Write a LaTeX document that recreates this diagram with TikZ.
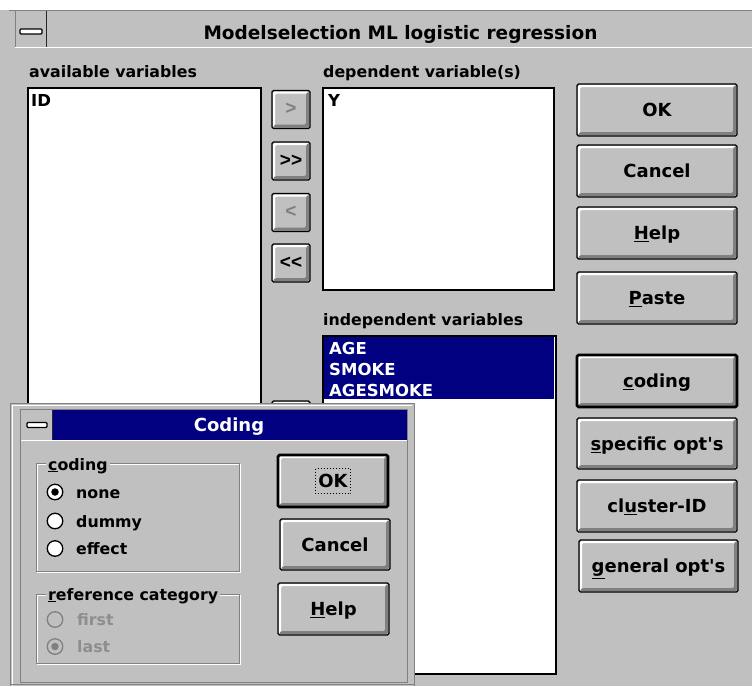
\documentclass[tikz,border=0pt]{standalone}
\usepackage{fontspec}
\setmainfont{DejaVu Sans}
\newfontfamily\chevfont{Liberation Sans}
\definecolor{winGray}{HTML}{C0C0C0}
\definecolor{winShadow}{HTML}{808080}
\definecolor{winNavy}{HTML}{000080}
\definecolor{winDim}{HTML}{8E8E8E}
\begin{document}
\begin{tikzpicture}[x=1pt,y=-1pt,
  lbl/.style={font=\fontsize{15.8}{18}\selectfont\bfseries, inner sep=0pt, anchor=base west},
  item/.style={font=\fontsize{16.5}{19}\selectfont\bfseries, inner sep=0pt, anchor=base west},
  titletext/.style={font=\fontsize{18.5}{20}\selectfont\bfseries, inner sep=0pt, text height=13.4pt, text depth=0pt},
  bevel/.style={path picture={
    \fill[white]
      ([xshift=1pt,yshift=1pt]path picture bounding box.south west)
      |- ([xshift=-1pt,yshift=-1pt]path picture bounding box.north east)
      -- ([xshift=-3pt,yshift=-3pt]path picture bounding box.north east)
      -| ([xshift=3pt,yshift=3pt]path picture bounding box.south west)
      -- cycle;
    \fill[winShadow]
      ([xshift=1pt,yshift=1pt]path picture bounding box.south west)
      -| ([xshift=-1pt,yshift=-1pt]path picture bounding box.north east)
      -- ([xshift=-4pt,yshift=-3pt]path picture bounding box.north east)
      |- ([xshift=3pt,yshift=4pt]path picture bounding box.south west)
      -- cycle;
  }},
  winbtn/.style 2 args={draw=black, line width=1.3pt, fill=winGray, rounded corners=1.5pt,
    minimum width=#1, minimum height=#2, inner sep=0pt, bevel,
    font=\fontsize{18}{20}\selectfont\bfseries, text height=13.1pt, text depth=0pt},
  defbtn/.style={line width=2.7pt},
  chev/.style={font=\fontsize{19}{19}\selectfont\chevfont\bfseries, text height=10pt, text depth=0pt},
  dimmed/.style={text=winShadow},
  listbox/.style={draw=black, line width=1.6pt, fill=white, anchor=north west, inner sep=0pt},
  sysdash/.style={draw=black, line width=1.1pt, fill=white, rounded corners=1pt,
    minimum width=#1, minimum height=5pt, inner sep=0pt},
  radio/.style={circle, draw=black, line width=1.3pt, fill=white, minimum size=15.5pt, inner sep=0pt},
  radiooff/.style={circle, draw=winShadow, line width=1.3pt, fill=winGray, minimum size=15.5pt, inner sep=0pt},
  radiodot/.style={circle, fill=#1, minimum size=7.5pt, inner sep=0pt},
  grptitle/.style={lbl, fill=winGray, inner sep=2pt},
  etched/.style={draw=winShadow, line width=1pt},
]
\useasboundingbox (0,0) rectangle (752,686);
\fill[white] (0,0) rectangle (752,686);

% ---------- main window ----------
\fill[winGray] (0,10) rectangle (752,686);
\draw[winShadow, line width=1.5pt] (9,10.3) -- (752,10.3);
\draw[winShadow, line width=1pt] (15.5,11) -- (15.5,47);
\draw[black!85, line width=1.3pt] (46.5,11) -- (46.5,47);
\draw[white, line width=1.3pt] (15,47.7) -- (752,47.7);
\node[sysdash=22pt] (mainMenu) at (31,31.5) {};
\node[titletext] (mainTitle) at (400.5,32.5) {Modelselection ML logistic regression};

% labels
\node[lbl] (availLabel) at (29,77.5) {available variables};
\node[lbl] (depLabel) at (323,77.5) {dependent variable(s)};
\node[lbl] (indepLabel) at (323,325.5) {independent variables};

% list boxes
\node[listbox, minimum width=233pt, minimum height=330pt] (availBox) at (27,87) {};
\node[item] (itemID) at (31,106.5) {ID};
\node[listbox, minimum width=231pt, minimum height=202pt] (depBox) at (322,87) {};
\node[item] (itemY) at (328,106.5) {Y};
\node[listbox, minimum width=233pt, minimum height=338pt] (indepBox) at (322,335) {};
\fill[winNavy] (323.5,336.5) rectangle (554,399);
\node[item, text=white] (itemAge) at (329,354.5) {AGE};
\node[item, text=white] (itemSmoke) at (329,375.5) {SMOKE};
\node[item, text=white] (itemAgeSmoke) at (329,396) {AGESMOKE};

% transfer buttons
\node[winbtn={38pt}{38pt}, chev, dimmed] (btnAdd) at (291,109.5) {>};
\node[winbtn={38pt}{38pt}, chev] (btnAddAll) at (291,161) {>>};
\node[winbtn={38pt}{38pt}, chev, dimmed] (btnRemove) at (291,212.5) {<};
\node[winbtn={38pt}{38pt}, chev] (btnRemoveAll) at (291,263) {<<};
\node[winbtn={38pt}{38pt}] (btnHidden) at (291,420) {};

% command buttons
\node[winbtn={160pt}{52pt}] (btnOK) at (657,110) {OK};
\node[winbtn={160pt}{52pt}] (btnCancel) at (657,171) {Cancel};
\node[winbtn={160pt}{52pt}] (btnHelp) at (657,233) {\underline{H}elp};
\node[winbtn={160pt}{52pt}] (btnPaste) at (657,298) {\underline{P}aste};
\node[winbtn={160pt}{52pt}, defbtn] (btnCoding) at (657,381) {\underline{c}oding};
\node[winbtn={160pt}{51pt}] (btnSpecific) at (657,443.5) {\underline{s}pecific opt\textquotesingle s};
\node[winbtn={160pt}{52pt}] (btnCluster) at (657,506) {cl\underline{u}ster-ID};
\node[winbtn={159pt}{52pt}] (btnGeneral) at (658.5,566) {\underline{g}eneral opt\textquotesingle s};

% ---------- coding dialog ----------
\fill[winGray] (10.5,403.5) rectangle (414.5,686);
\draw[winShadow, line width=1.2pt] (10.5,686) -- (10.5,403.5) -- (414.5,403.5) -- (414.5,686);
\draw[white, line width=1.2pt] (12.8,686) -- (12.8,405.8) -- (412,405.8);
\draw[winShadow, line width=1pt] (10,684.5) -- (415,684.5);
\draw[winShadow, line width=1pt] (20.5,682) -- (20.5,409.5) -- (407.5,409.5) -- (407.5,682) -- cycle;
\fill[winNavy] (53,410) rectangle (407,440);
\draw[black!85, line width=1.3pt] (52.5,410) -- (52.5,440);
\draw[white, line width=1.3pt] (21,440.8) -- (407,440.8);
\node[sysdash=20pt] (dlgMenu) at (37,425) {};
\node[titletext, text=white, font=\fontsize{18}{20}\selectfont\bfseries] (dlgTitle) at (229,425) {Coding};

% coding group
\draw[white, line width=1pt] (37,464) rectangle (240,572);
\draw[etched] (36,463) rectangle (239,571);
\node[grptitle] (grpCoding) at (46,470) {\underline{c}oding};
\node[radio] (rNone) at (55,492) {};
\node[radiodot=black] (rNoneDot) at (rNone) {};
\node[lbl] (tNone) at (76,498) {none};
\node[radio] (rDummy) at (55,521) {};
\node[lbl] (tDummy) at (76,527) {dummy};
\node[radio] (rEffect) at (55,548.5) {};
\node[lbl] (tEffect) at (76,554.5) {effect};

% reference category group
\draw[white, line width=1pt] (37,595) rectangle (240,664);
\draw[etched] (36,594) rectangle (239,663);
\node[grptitle] (grpRef) at (46,600) {\underline{r}eference category};
\node[radiooff] (rFirst) at (55,619.5) {};
\node[lbl, text=winDim] (tFirst) at (77,625.5) {first};
\node[radiooff] (rLast) at (55,646.5) {};
\node[radiodot=winShadow] (rLastDot) at (rLast) {};
\node[lbl, text=winDim] (tLast) at (77,652.5) {last};

% dialog buttons
\node[winbtn={110pt}{52pt}, defbtn] (dlgOK) at (333,481) {OK};
\draw[black, dotted, line width=1pt] ([xshift=-17.5pt,yshift=12.5pt]dlgOK.center) rectangle ([xshift=17.5pt,yshift=-12.5pt]dlgOK.center);
\node[winbtn={110pt}{51pt}] (dlgCancel) at (335,544.5) {Cancel};
\node[winbtn={111pt}{52pt}] (dlgHelp) at (333.5,609) {\underline{H}elp};
\end{tikzpicture}
\end{document}
